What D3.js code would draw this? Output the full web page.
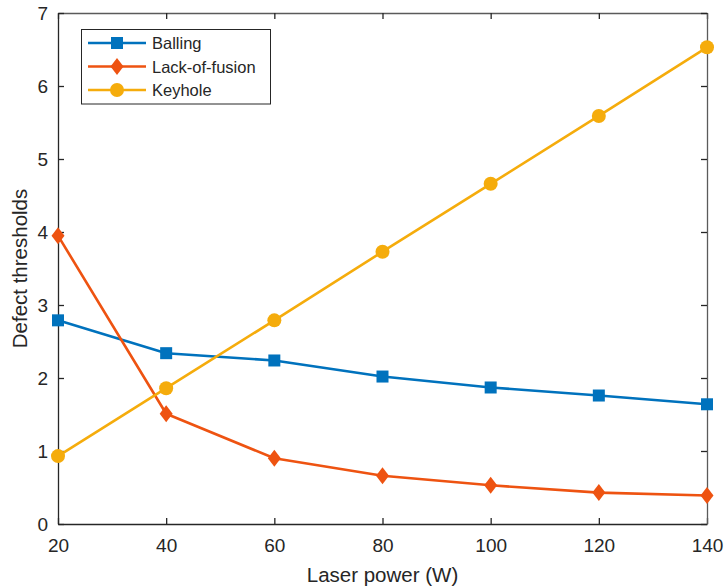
<!DOCTYPE html>
<html>
<head>
<meta charset="utf-8">
<script src="https://cdn.jsdelivr.net/npm/d3@7/dist/d3.min.js"></script>
<style>
  html, body { margin: 0; padding: 0; background: #fff; }
  svg text { font-family: "Liberation Sans", Arial, Helvetica, sans-serif; fill: #262626; }
</style>
</head>
<body>
<svg id="chart" width="724" height="588"></svg>
<script>
// Laser power (W)
const power = [20, 40, 60, 80, 100, 120, 140];
// Defect thresholds per series
const balling      = [2.79, 2.34, 2.24, 2.02, 1.87, 1.76, 1.64];
const lackOfFusion = [3.95, 1.51, 0.90, 0.66, 0.53, 0.43, 0.39];
const keyhole      = [0.93, 1.86, 2.79, 3.73, 4.66, 5.59, 6.53];
const seriesNames = ["Balling", "Lack-of-fusion", "Keyhole"];
const xTicks = [20, 40, 60, 80, 100, 120, 140];
const yTicks = [0, 1, 2, 3, 4, 5, 6, 7];

const colors = ["#0072BD", "#EE5311", "#F5AC0C"];
const shapes = ["square", "diamond", "circle"];
const values = [balling, lackOfFusion, keyhole];

const svg = d3.select("#chart");
const margin = { left: 58, right: 17, top: 13, bottom: 64 };
const W = 724, H = 588;

const x = d3.scaleLinear().domain([20, 140]).range([margin.left, W - margin.right]);
const y = d3.scaleLinear().domain([0, 7]).range([H - margin.bottom, margin.top]);

const axisColor = "#262626";
const tickLen = 6;
const fmt = d3.format("d");

// Axes with inward ticks on all four sides (box on)
const gBottom = svg.append("g").attr("transform", `translate(0,${y(0)})`)
  .call(d3.axisBottom(x).tickValues(xTicks).tickFormat(fmt).tickSizeInner(-tickLen).tickSizeOuter(0).tickPadding(15));
const gTop = svg.append("g").attr("transform", `translate(0,${y(7)})`)
  .call(d3.axisTop(x).tickValues(xTicks).tickSizeInner(-tickLen).tickSizeOuter(0).tickFormat(""));
const gLeft = svg.append("g").attr("transform", `translate(${x(20)},0)`)
  .call(d3.axisLeft(y).tickValues(yTicks).tickFormat(fmt).tickSizeInner(-tickLen).tickSizeOuter(0).tickPadding(10));
const gRight = svg.append("g").attr("transform", `translate(${x(140)},0)`)
  .call(d3.axisRight(y).tickValues(yTicks).tickSizeInner(-tickLen).tickSizeOuter(0).tickFormat(""));

[gBottom, gTop, gLeft, gRight].forEach(g => {
  g.select(".domain").attr("stroke", axisColor).attr("stroke-width", 1.3);
  g.selectAll(".tick line").attr("stroke", axisColor).attr("stroke-width", 1.3);
  g.selectAll(".tick text").attr("font-size", 19).attr("fill", axisColor)
    .style("font-family", "'Liberation Sans', Arial, sans-serif");
});
gTop.select(".domain").attr("stroke", "#5a5a5a");
gRight.select(".domain").attr("stroke", "#5a5a5a");

// Axis titles
svg.append("text")
  .attr("x", (x(20) + x(140)) / 2).attr("y", 582)
  .attr("text-anchor", "middle").attr("font-size", 20.5)
  .text("Laser power (W)");
svg.append("text")
  .attr("transform", `translate(27,${(y(0) + y(7)) / 2}) rotate(-90)`)
  .attr("text-anchor", "middle").attr("font-size", 20.5)
  .text("Defect thresholds");

// Marker drawing
function drawMarker(g, shape, cx, cy, color) {
  if (shape === "square") {
    g.append("rect").attr("x", cx - 6).attr("y", cy - 6).attr("width", 12).attr("height", 12).attr("fill", color);
  } else if (shape === "diamond") {
    g.append("path").attr("d", `M${cx},${cy - 8.5}L${cx + 6.5},${cy}L${cx},${cy + 8.5}L${cx - 6.5},${cy}Z`).attr("fill", color);
  } else {
    g.append("circle").attr("cx", cx).attr("cy", cy).attr("r", 7).attr("fill", color);
  }
}

const line = d3.line().x((d, i) => x(power[i])).y(d => y(d));
const plot = svg.append("g");
values.forEach((vals, s) => {
  plot.append("path").datum(vals).attr("d", line)
    .attr("fill", "none").attr("stroke", colors[s]).attr("stroke-width", 2.6).attr("stroke-linejoin", "round");
});
values.forEach((vals, s) => {
  const g = plot.append("g");
  vals.forEach((v, i) => drawMarker(g, shapes[s], x(power[i]), y(v), colors[s]));
});

// Legend
const legend = svg.append("g");
legend.append("rect").attr("x", 81.5).attr("y", 29.5).attr("width", 189).attr("height", 74.5)
  .attr("fill", "#fff").attr("stroke", axisColor).attr("stroke-width", 1);
seriesNames.forEach((name, s) => {
  const ly = 43 + s * 23.5;
  legend.append("line").attr("x1", 88).attr("x2", 146).attr("y1", ly).attr("y2", ly)
    .attr("stroke", colors[s]).attr("stroke-width", 2.6);
  drawMarker(legend, shapes[s], 117, ly, colors[s]);
  legend.append("text").attr("x", 152).attr("y", ly + 6).attr("font-size", 16.5).text(name);
});
</script>
</body>
</html>
